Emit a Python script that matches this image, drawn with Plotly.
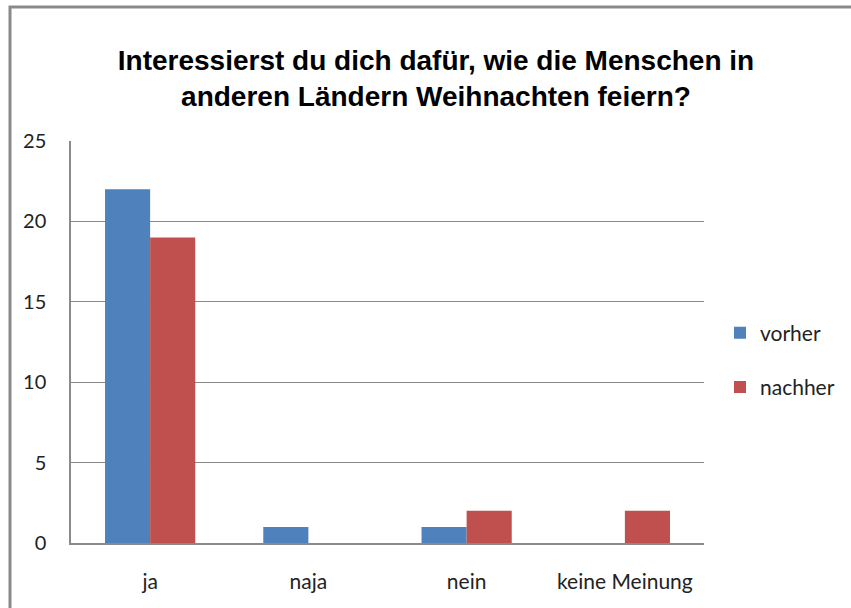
import plotly.graph_objects as go

categories = ["ja", "naja", "nein", "keine Meinung"]
vorher = [22, 1, 1, 0]
nachher = [19, 0, 2, 2]
series_names = ["vorher", "nachher"]
y_ticks = [0, 5, 10, 15, 20, 25]

W, H = 851, 608
L, R, T, B = 71, 147, 141, 65
pw, ph = W - L - R, H - T - B

fig = go.Figure()
fig.add_trace(go.Bar(x=categories, y=vorher, name=series_names[0], marker_color="#4F81BD",
                     marker_line_width=0, legendgroup="a"))
fig.add_trace(go.Bar(x=categories, y=nachher, name=series_names[1], marker_color="#C0504D",
                     marker_line_width=0, legendgroup="b"))

# outer chart frame
fig.add_shape(type="rect", xref="paper", yref="paper",
              x0=(10 - L) / pw, x1=(W + 20 - L) / pw,
              y0=(T + ph - (H + 20)) / ph, y1=(T + ph - 7) / ph,
              line=dict(color="#8A8A8A", width=3), layer="below")

fig.update_layout(
    width=W, height=H,
    margin=dict(l=L, r=R, t=T, b=B, autoexpand=False),
    paper_bgcolor="white", plot_bgcolor="white",
    barmode="group", bargap=0.43, bargroupgap=0,
    title=dict(text="Interessierst du dich dafür, wie die Menschen in<br>anderen Ländern Weihnachten feiern?",
               x=436 / W, xanchor="center", y=1 - 70 / H, yanchor="middle",
               font=dict(family="Liberation Sans Narrow, Arial Narrow, Liberation Sans", size=28,
                         color="black", weight="bold")),
    font=dict(family="Lato, Carlito, Calibri, sans-serif", size=21, color="#222"),
    xaxis=dict(showline=True, linecolor="#8A8A8A", linewidth=1.5, ticks="",
               ticklabelstandoff=19, tickfont=dict(size=21), fixedrange=True, automargin=False),
    yaxis=dict(range=[0, 25], tickvals=y_ticks, showgrid=True, gridcolor="#8A8A8A", gridwidth=1,
               showline=True, linecolor="#8A8A8A", linewidth=1.5, ticks="", automargin=False,
               ticklabelstandoff=19, tickfont=dict(size=20), zeroline=False),
    legend=dict(x=(720 - L) / pw, xanchor="left", y=(T + ph - 360) / ph, yanchor="middle",
                font=dict(size=21), tracegroupgap=24, traceorder="grouped", itemwidth=30),
    showlegend=True,
)

fig.write_html("out.html", config={"displayModeBar": False},
               post_script="document.body.style.margin='0px';")
